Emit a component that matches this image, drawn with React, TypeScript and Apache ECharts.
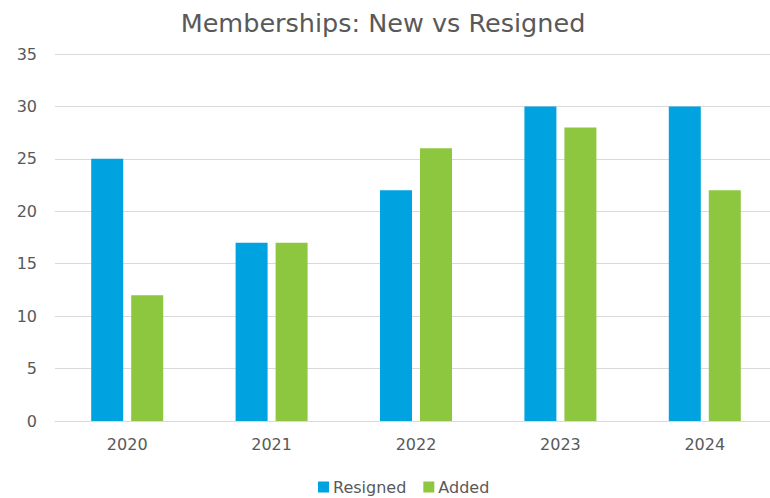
import React, { useEffect, useRef } from "react";
import * as echarts from "echarts";

const categories = ["2020", "2021", "2022", "2023", "2024"];
const resigned = [25, 17, 22, 30, 30];
const added = [12, 17, 26, 28, 22];
const yTicks = { min: 0, max: 35, interval: 5 };

export default function App() {
  const ref = useRef<HTMLDivElement>(null);
  useEffect(() => {
    const chart = echarts.init(ref.current!, null, { renderer: "svg" });
    const font = "'DejaVu Sans', 'Liberation Sans', sans-serif";
    chart.setOption({
      animation: false,
      backgroundColor: "#ffffff",
      title: {
        text: "Memberships: New vs Resigned",
        left: 378,
        textAlign: "center",
        top: 5,
        textStyle: { color: "#595959", fontSize: 25.5, fontWeight: "normal", fontFamily: font },
      },
      legend: {
        left: 318,
        top: 479,
        padding: 0,
        itemWidth: 11,
        itemHeight: 11,
        itemGap: 17,
        icon: "rect",
        textStyle: { color: "#595959", fontSize: 16, lineHeight: 16, fontFamily: font, padding: [0, 0, 0, -1] },
        data: ["Resigned", "Added"],
      },
      grid: { left: 55, top: 54, width: 722, height: 367, containLabel: false },
      xAxis: {
        type: "category",
        data: categories,
        axisLine: { lineStyle: { color: "#d9d9d9", width: 1 } },
        axisTick: { show: false },
        axisLabel: { color: "#595959", fontSize: 16, fontFamily: font, margin: 15 },
      },
      yAxis: {
        type: "value",
        min: yTicks.min,
        max: yTicks.max,
        interval: yTicks.interval,
        axisLine: { show: false },
        axisTick: { show: false },
        splitLine: { lineStyle: { color: "#d9d9d9", width: 1 } },
        axisLabel: { color: "#595959", fontSize: 16, fontFamily: font, margin: 18 },
      },
      series: [
        {
          name: "Resigned",
          type: "bar",
          data: resigned,
          barWidth: 32,
          barGap: "25%",
          itemStyle: { color: "#00A3E0" },
        },
        {
          name: "Added",
          type: "bar",
          data: added,
          barWidth: 32,
          barGap: "25%",
          itemStyle: { color: "#8DC63F" },
        },
      ],
    });
    return () => chart.dispose();
  }, []);
  return (
    <div style={{ width: 770, height: 498, position: "absolute", left: 0, top: 0, overflow: "hidden" }}>
      <div ref={ref} style={{ width: 800, height: 498 }} />
    </div>
  );
}
